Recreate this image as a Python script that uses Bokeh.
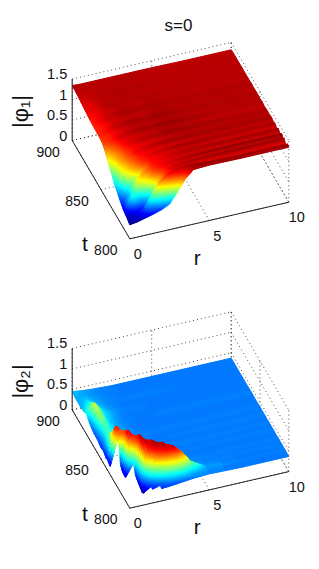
from math import nan
from bokeh.embed import file_html
from bokeh.layouts import column
from bokeh.models import ColumnDataSource, Range1d
from bokeh.plotting import figure
from bokeh.core.properties import value
from bokeh.resources import INLINE

n = nan
TITLE = "s=0"
R_NODES = [0, .5, 1, 1.5, 2, 2.5, 3, 3.5, 4, 5, 7, 10]
T_NODES = [800, 802, 804, 806, 808, 810, 812, 815, 818, 821, 824, 827, 830, 834,
           838, 842, 846, 850, 855, 860, 865, 870, 875, 880, 885, 890, 895, 900]
R_TICKS = [0, 5, 10]
T_TICKS = [800, 850, 900]
Z_TICKS = [0, .5, 1, 1.5]
Z_LABELS = ["0", "0.5", "1", "1.5"]

PHI1 = [
 [.34,.37,.42,.47,.53,.62,.87,1.15,1.33,1.35,1.34,1.34],
 [.36,.40,.47,.66,.85,1.05,1.18,1.27,1.35,1.37,1.37,1.37],
 [.38,.42,.52,.82,1.12,1.25,1.30,1.33,1.36,1.33,1.30,1.30],
 [.40,.44,.48,.62,.95,1.20,1.29,1.31,1.30,1.29,1.29,1.29],
 [.42,.62,.58,.72,1.05,1.22,1.31,1.33,1.34,1.36,1.37,1.37],
 [.44,.75,.72,.92,1.14,1.24,1.28,1.30,1.30,1.30,1.31,1.31],
 [.46,.70,.90,1.02,1.20,1.27,1.31,1.33,1.35,1.37,1.38,1.38],
 [.50,.64,1.00,1.12,1.23,1.26,1.28,1.29,1.30,1.30,1.30,1.30],
 [.55,.72,.88,1.10,1.24,1.28,1.31,1.33,1.34,1.35,1.36,1.36],
 [.61,.85,1.05,1.19,1.25,1.27,1.28,1.30,1.31,1.31,1.30,1.30],
 [.66,.95,1.12,1.22,1.28,1.31,1.33,1.35,1.36,1.36,1.35,1.35],
 [.71,1.00,1.14,1.24,1.27,1.28,1.28,1.29,1.30,1.31,1.32,1.32],
 [.79,1.05,1.18,1.27,1.31,1.33,1.35,1.36,1.36,1.36,1.35,1.35],
 [.88,1.09,1.20,1.26,1.28,1.29,1.30,1.31,1.32,1.33,1.33,1.33],
 [.98,1.12,1.24,1.30,1.33,1.34,1.35,1.36,1.37,1.36,1.35,1.34],
 [1.08,1.18,1.26,1.29,1.30,1.31,1.31,1.33,1.33,1.33,1.32,1.32],
 [1.17,1.23,1.30,1.33,1.35,1.36,1.36,1.37,1.37,1.36,1.34,1.34],
 [1.21,1.22,1.27,1.30,1.32,1.33,1.32,1.33,1.34,1.33,1.33,1.33],
 [1.22,1.26,1.31,1.34,1.35,1.36,1.35,1.36,1.36,1.35,1.34,1.34],
 [1.22,1.24,1.29,1.31,1.32,1.32,1.32,1.33,1.34,1.33,1.33,1.33],
 [1.23,1.28,1.32,1.34,1.35,1.35,1.35,1.35,1.35,1.34,1.34,1.34],
 [1.24,1.26,1.30,1.32,1.33,1.33,1.32,1.33,1.33,1.33,1.33,1.33],
 [1.26,1.29,1.33,1.34,1.34,1.34,1.34,1.34,1.34,1.34,1.33,1.33],
 [1.28,1.29,1.32,1.33,1.33,1.33,1.33,1.33,1.33,1.33,1.33,1.33],
 [1.30,1.31,1.33,1.34,1.34,1.34,1.34,1.34,1.34,1.33,1.33,1.33],
 [1.32,1.32,1.33,1.33,1.33,1.33,1.33,1.33,1.33,1.33,1.33,1.33],
 [1.33,1.33,1.33,1.33,1.33,1.33,1.34,1.34,1.33,1.33,1.33,1.33],
 [1.34,1.33,1.33,1.33,1.33,1.33,1.33,1.33,1.33,1.33,1.32,1.32],
]

PHI2 = [
 [n,n,n,n,.30,.31,.33,.35,.37,.39,.37,.37],
 [n,n,n,.28,.33,.45,.50,.48,.42,.39,.37,.37],
 [n,n,.18,.30,.50,.72,.78,.70,.52,.40,.37,.37],
 [n,n,.15,.45,.85,1.00,1.05,.92,.65,.42,.38,.38],
 [n,n,.18,.62,.98,1.07,1.07,.88,.55,.40,.37,.37],
 [n,n,.20,.85,1.05,1.10,1.02,.72,.47,.39,.37,.37],
 [n,n,.22,.95,1.10,1.10,.88,.60,.43,.38,.38,.38],
 [n,n,.25,1.02,1.10,.98,.68,.48,.40,.38,.37,.37],
 [n,n,.30,1.08,1.05,.78,.52,.42,.39,.38,.38,.38],
 [n,.20,.50,1.10,.90,.60,.45,.40,.38,.37,.37,.37],
 [n,.20,.80,1.08,.72,.50,.42,.38,.37,.37,.37,.37],
 [n,.22,1.00,1.00,.60,.45,.40,.38,.38,.38,.38,.38],
 [n,.30,1.08,.85,.50,.42,.39,.37,.37,.37,.37,.37],
 [.20,.85,1.00,.68,.48,.40,.38,.38,.38,.38,.38,.38],
 [.25,1.05,.85,.58,.45,.39,.37,.37,.37,.37,.37,.37],
 [.25,.85,.62,.50,.42,.38,.37,.37,.38,.38,.38,.38],
 [.30,.68,.53,.45,.40,.38,.37,.37,.37,.37,.37,.37],
 [.28,.60,.50,.43,.39,.38,.38,.38,.38,.38,.38,.38],
 [.32,.58,.48,.42,.39,.37,.37,.37,.37,.37,.37,.37],
 [.33,.62,.47,.41,.38,.37,.37,.37,.37,.37,.37,.37],
 [.35,.68,.47,.41,.38,.38,.37,.37,.38,.38,.38,.38],
 [.40,.70,.48,.42,.38,.37,.37,.37,.37,.37,.37,.37],
 [.50,.72,.48,.42,.39,.38,.38,.38,.37,.37,.37,.37],
 [.45,.60,.45,.40,.38,.37,.37,.37,.37,.37,.37,.37],
 [.42,.50,.43,.39,.38,.38,.38,.38,.38,.38,.37,.37],
 [.42,.45,.41,.39,.38,.37,.37,.37,.37,.37,.37,.37],
 [.42,.42,.40,.38,.38,.38,.37,.37,.37,.37,.37,.37],
 [.45,.42,.40,.39,.38,.37,.37,.37,.37,.37,.37,.37],
]

FONT = value("Liberation Sans")


def jet(f):
    f = max(0.0, min(1.0, f))
    def c(x):
        return int(255 * max(0.0, min(1.0, 1.5 - abs(4 * f - x))))
    return "#%02x%02x%02x" % (c(3), c(2), c(1))


def panel(zs, top, height, y0, zlim, zlabel, labels, title=None):
    ox, oy = 129.3, y0
    rx, ry = 15.9, -3.66          # screen px per unit r
    tx, ty = -.576, -.983         # screen px per unit t
    zy = -41.0                    # screen px per unit |phi|

    def proj(r, t, z=0.0):
        return ox + rx * r + tx * (t - 800), oy + ry * r + ty * (t - 800) + zy * z

    p = figure(width=319, height=height, x_range=Range1d(0, 319),
               y_range=Range1d(top + height, top), output_backend="svg",
               toolbar_location=None, min_border=0, outline_line_color=None,
               x_axis_type=None, y_axis_type=None)
    p.grid.visible = False

    rmin, rmax, tmin, tmax = R_TICKS[0], R_TICKS[-1], T_TICKS[0], T_TICKS[-1]
    zmax = Z_TICKS[-1]
    gx, gy = [], []

    def seg(a, b):
        gx.append([a[0], b[0]])
        gy.append([a[1], b[1]])

    for r in R_TICKS:
        seg(proj(r, tmin), proj(r, tmax))
        seg(proj(r, tmax), proj(r, tmax, zmax))
    for t in T_TICKS:
        seg(proj(rmin, t), proj(rmax, t))
        seg(proj(rmax, t), proj(rmax, t, zmax))
    for z in Z_TICKS:
        seg(proj(rmin, tmax, z), proj(rmax, tmax, z))
        seg(proj(rmax, tmax, z), proj(rmax, tmin, z))
    p.multi_line(gx, gy, line_color="#000000", line_width=1, line_dash="1 3", line_alpha=.7)

    # surface, painted far to near, colours shaded across each cell
    cells = []
    for i in range(len(T_NODES) - 1):
        for j in range(len(R_NODES) - 1):
            c = [zs[i][j], zs[i][j + 1], zs[i + 1][j + 1], zs[i + 1][j]]
            if any(v != v for v in c):
                continue
            spread = max(c) - min(c)
            nr = 2 if spread < .06 else min(8, int(spread / .04) + 2)
            for a in range(nr):
                for b in range(nr):
                    u0, u1, v0, v1 = a / nr, (a + 1) / nr, b / nr, (b + 1) / nr
                    pts = []
                    for u, v in ((u0, v0), (u1, v0), (u1, v1), (u0, v1)):
                        rr = R_NODES[j] + u * (R_NODES[j + 1] - R_NODES[j])
                        tt = T_NODES[i] + v * (T_NODES[i + 1] - T_NODES[i])
                        zz = ((1 - u) * (1 - v) * c[0] + u * (1 - v) * c[1]
                              + u * v * c[2] + (1 - u) * v * c[3])
                        pts.append((rr, tt, zz))
                    key = sum(proj(q[0], q[1])[1] for q in pts)
                    cells.append((key, pts))
    cells.sort(key=lambda k: k[0])
    xs, ys, cs = [], [], []
    for _, pts in cells:
        sc = [proj(*q) for q in pts]
        xs.append([q[0] for q in sc])
        ys.append([q[1] for q in sc])
        cs.append(jet((sum(q[2] for q in pts) / 4 - zlim[0]) / (zlim[1] - zlim[0])))
    p.patches("xs", "ys", source=ColumnDataSource(dict(xs=xs, ys=ys, c=cs)),
              fill_color="c", line_color="c", line_width=1)

    # solid axis lines
    ax, ay = [], []
    for a, b in ((proj(rmin, tmin), proj(rmax, tmin)),
                 (proj(rmin, tmin), proj(rmin, tmax)),
                 (proj(rmin, tmax), proj(rmin, tmax, zmax))):
        ax.append([a[0], b[0]])
        ay.append([a[1], b[1]])
    p.multi_line(ax, ay, line_color="#222222", line_width=1)

    def txt(x, y, s, size, angle=0, align="center"):
        p.text([x], [y], text=[s], text_font=FONT, text_font_size=size, angle=angle,
               text_align=align, text_baseline="middle", text_color="#111111")

    for z, lab in zip(Z_TICKS, Z_LABELS):
        xy = proj(rmin, tmax, z)
        txt(xy[0] - 5, xy[1] - 5, lab, "14.5px", align="right")
    for t in T_TICKS:
        xy = proj(rmin, t)
        txt(xy[0] - 24, xy[1] + 11, str(t), "14px")
    for r in R_TICKS:
        xy = proj(r, tmin)
        txt(xy[0] + 8, xy[1] + 15, str(r), "14.5px")
    txt(proj(rmin, tmin)[0] - 45, proj(rmin, tmin)[1] + 5, "t", "21px")
    txt(proj(5, tmin)[0] - 12, proj(5, tmin)[1] + 37, "r", "21px")
    txt(labels[0], labels[1], zlabel, "22px", angle=1.5708)
    if title:
        txt(178, 25, title, "17px")
    return p


p1 = panel(PHI1, 0, 284, 238.3, (.325, 1.39), "|φ₁|", (20, 111), TITLE)
p2 = panel(PHI2, 284, 285, 507.7, (.12, 1.15), "|φ₂|", (20, 381))
page = column(p1, p2)
open("out.html", "w").write(file_html(page, INLINE))
